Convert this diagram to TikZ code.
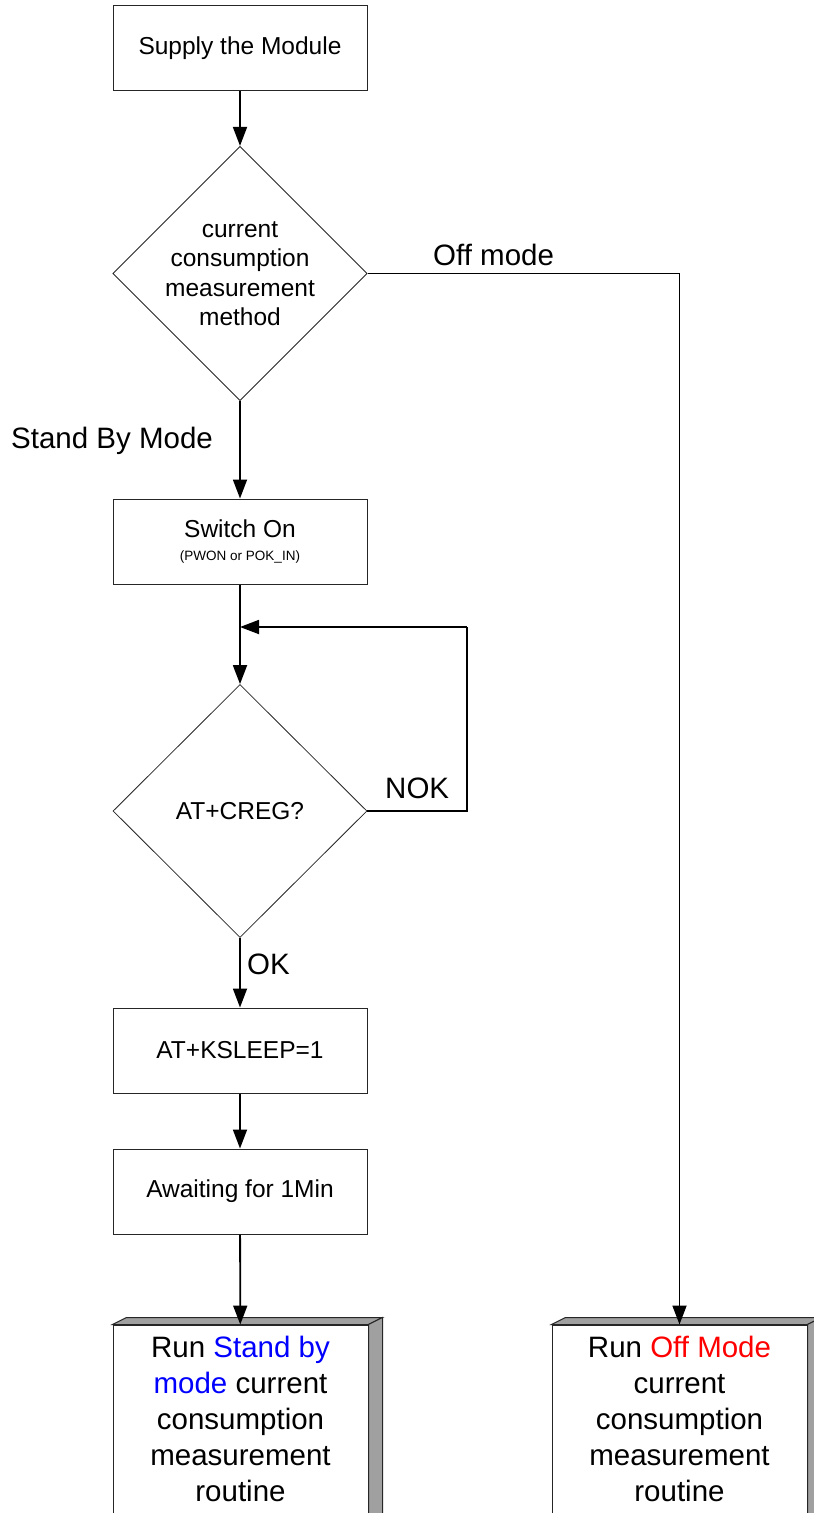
\documentclass[tikz,border=0pt]{standalone}
\usepackage{fontspec}
\setmainfont{Liberation Sans}
\usetikzlibrary{shapes.geometric,arrows.meta}
\definecolor{sbblue}{RGB}{0,0,255}
\definecolor{offred}{RGB}{255,0,0}
\definecolor{shade}{RGB}{160,160,160}
\begin{document}
\begin{tikzpicture}[x=1pt,y=-1pt,
  box/.style={draw=black!85, line width=1pt, fill=white, minimum width=254pt,
    minimum height=85pt, inner sep=0pt, align=center,
    font=\fontsize{24.5}{29.5}\selectfont},
  decision/.style={diamond, draw=black!85, line width=0.8pt, fill=white,
    minimum width=254pt, minimum height=253pt, aspect=1, inner sep=0pt,
    align=center, font=\fontsize{24.5}{29.5}\selectfont},
  endbox/.style={draw=black!85, line width=1pt, fill=white, minimum width=255pt,
    minimum height=215pt, inner sep=0pt},
  face/.style={draw=black!85, line width=1pt, fill=shade},
  endtext/.style={anchor=north, align=center, inner sep=0pt,
    font=\fontsize{29.5}{36}\selectfont},
  lbl/.style={anchor=base west, inner sep=0pt, font=\fontsize{29.5}{36}\selectfont},
  flow/.style={line width=1.8pt, -{Triangle[length=19pt,width=14pt]}},
  wire/.style={line width=1.8pt},
]
\useasboundingbox (0,0) rectangle (814,1513);
\clip (0,0) rectangle (814,1513);

% process steps
\node[box] (supply) at (240,48) {Supply the Module};
\node[decision] (method) at (240,273.5) {current\\consumption\\measurement\\method};
\node[box] (switch) at (240,541.5) {Switch On\\[-7pt]{\fontsize{13.5}{16}\selectfont (PWON or POK\_IN)}};
\node[decision] (creg) at (240,811) {AT+CREG?};
\node[box] (ksleep) at (240,1050.5) {AT+KSLEEP=1};
\node[box] (await) at (240,1191.5) {Awaiting for 1Min};

% final routines, drawn as raised blocks
\node[endbox] (sbrun) at (240.5,1432.5) {};
\node[endbox] (offrun) at (679.5,1432.5) {};
\foreach \b in {sbrun,offrun}{
  \draw[face] (\b.north west) -- ++(14,-7) -- ([shift={(14,-7)}]\b.north east) -- (\b.north east) -- cycle;
  \draw[face] (\b.north east) -- ++(14,-7) -- ([shift={(14,-7)}]\b.south east) -- (\b.south east) -- cycle;
}
\node[endtext] (sbtext) at (240.5,1336) {Run \textcolor{sbblue}{Stand by}\\\textcolor{sbblue}{mode} current\\consumption\\measurement\\routine};
\node[endtext] (offtext) at (679.5,1336) {Run \textcolor{offred}{Off Mode}\\current\\consumption\\measurement\\routine};

% connectors
\coordinate (loopR) at (467,627);
\coordinate (loopIn) at (240,627);
\draw[flow] (supply) -- (method);
\draw[flow] (method) -- (switch);
\draw[flow] (switch) -- (creg);
\draw[wire] (creg.east) -| (loopR);
\draw[flow] (loopR) -- (loopIn);
\draw[flow] (creg) -- (ksleep);
\draw[flow] (ksleep) -- (await);
\draw[flow] (await) -- (sbrun);
\draw[flow] (method.east) -| (offrun.north);

% branch labels
\node[lbl] (offlbl) at (433,265) {Off mode};
\node[lbl] (sblbl) at (11,448) {Stand By Mode};
\node[lbl] (noklbl) at (385,798) {NOK};
\node[lbl] (oklbl) at (247,974) {OK};
\end{tikzpicture}
\end{document}
